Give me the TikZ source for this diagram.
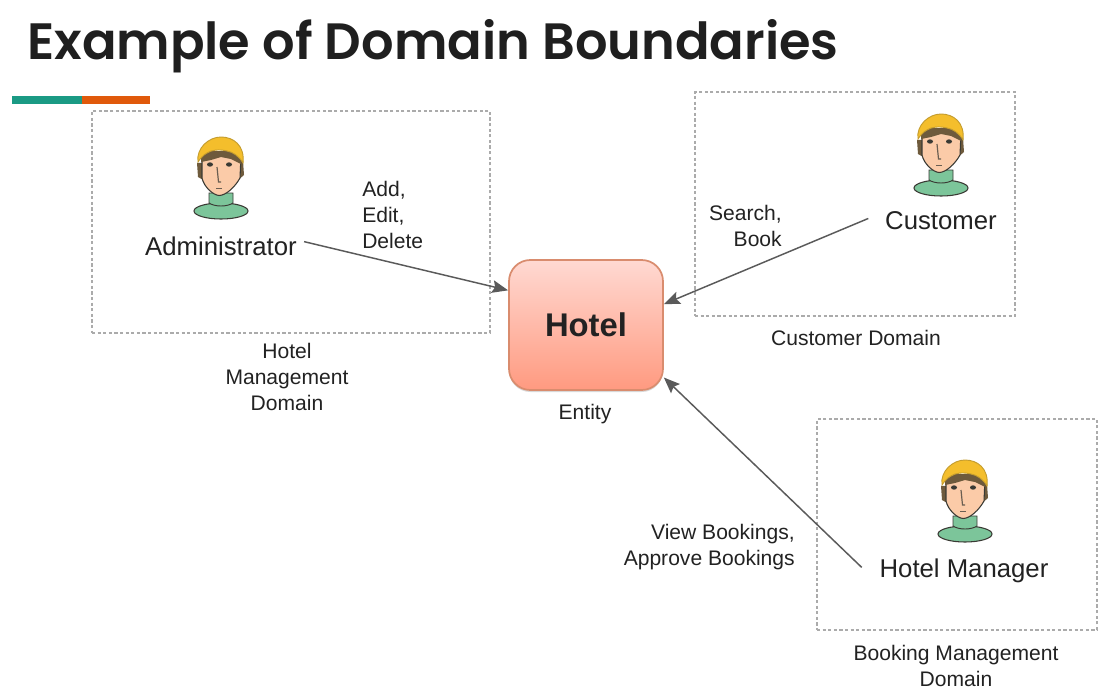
\documentclass[tikz,border=0pt]{standalone}
\usepackage{fontspec}
\setmainfont{Liberation Sans}
\newfontfamily\titlefont{Poppins}[BoldFont={Poppins SemiBold}]
\usetikzlibrary{arrows.meta,shadows}
\definecolor{inkc}{HTML}{222222}
\definecolor{teal1}{HTML}{1A9A84}
\definecolor{orng}{HTML}{E0590B}
\definecolor{dashc}{HTML}{ABABAB}
\definecolor{arrowc}{HTML}{5A5A5A}
\definecolor{hairc}{HTML}{F4BE2C}
\definecolor{hairdk}{HTML}{6E5A3C}
\definecolor{skinc}{HTML}{FBCBA8}
\definecolor{shirtc}{HTML}{7CC59A}
\definecolor{personl}{HTML}{3A3A34}
\definecolor{hotelline}{HTML}{D98C6E}
\definecolor{hoteltop}{HTML}{FFD9D2}
\definecolor{hotelbot}{HTML}{FF9A80}
\tikzset{
  domainbox/.style={draw=dashc,dash pattern=on 2.4pt off 1.8pt,line width=0.8pt,inner sep=0pt,fill=none},
  bigname/.style={font=\fontsize{19.3}{22}\selectfont,text=inkc,inner sep=0pt},
  smalltxt/.style={font=\fontsize{15.8}{19.5}\selectfont,text=inkc,inner sep=0pt},
  linkarrow/.style={draw=arrowc,line width=1.1pt,-{Stealth[length=12pt,width=9.5pt,inset=2pt]}},
  pics/person/.style={code={
    % shoulders and neck
    \fill[shirtc,draw=personl,line width=0.8pt] (0,36) ellipse [x radius=27,y radius=8];
    \fill[shirtc,draw=personl,line width=0.7pt] (-12,18) -- (-12,28) .. controls (-6,32) and (6,32) .. (12,28) -- (12,18) -- cycle;
    % back hair
    \fill[hairdk] (-24,-12) -- (-23,2) -- (-16,6) -- (16,6) -- (23,0) -- (22,-14) -- cycle;
    % face
    \fill[skinc,draw=personl,line width=0.8pt] (-19,-20) -- (-19,3) .. controls (-17,12) and (-8,20) .. (-2,20.5)
      .. controls (5,20.5) and (14,12) .. (19,3) -- (20,-20) -- cycle;
    % fringe shade
    \fill[hairdk] (-20,-13) -- (-10,-15) -- (0,-18) -- (10,-16) -- (20,-11) -- (20,-24) -- (-20,-24) -- cycle;
    % hair
    \fill[hairc,draw=hairc!75!personl,line width=0.7pt] (-23,-13) .. controls (-25,-27) and (-12,-38) .. (0,-38)
      .. controls (12,-38) and (24,-30) .. (22,-12)
      .. controls (18,-19) and (12,-23) .. (6,-24)
      .. controls (-2,-26) and (-10,-25) .. (-14,-22)
      .. controls (-18,-20) and (-21,-16) .. (-23,-13) -- cycle;
    % eyes
    \fill[personl] (-11,-10.5) ellipse [x radius=3,y radius=2.2];
    \fill[personl] (8,-10.5) ellipse [x radius=3,y radius=2.2];
    % nose and mouth
    \draw[personl!75!skinc,line width=0.9pt] (-4,-8) -- (-2.5,7) -- (0,7);
    \draw[personl!75!skinc,line width=0.9pt] (-5,13.5) -- (1,13.5);
  }}
}
\begin{document}
\begin{tikzpicture}[x=0.75pt,y=-0.75pt]
\useasboundingbox (0,0) rectangle (1112,696);
\fill[white] (0,0) rectangle (1112,696);
% title and rule
\node[anchor=base west,inner sep=0pt,text=black!88] (title) at (27,59) {\titlefont\bfseries\fontsize{38.3}{44}\selectfont Example of Domain Boundaries};
\fill[teal1] (12,96) rectangle (82,104);
\fill[orng] (82,96) rectangle (150,104);
% domain boxes
\node[domainbox,minimum width=298.5pt,minimum height=166.5pt] (boxA) at (291,222) {};
\node[domainbox,minimum width=240pt,minimum height=168pt] (boxB) at (855,204) {};
\node[domainbox,minimum width=210pt,minimum height=158.25pt] (boxC) at (957,524.5) {};
% entity
\node[draw=hotelline,line width=1.3pt,rounded corners=16pt,minimum width=115.5pt,minimum height=97.5pt,
  top color=hoteltop,bottom color=hotelbot,
  drop shadow={shadow xshift=0pt,shadow yshift=-1.5pt,opacity=0.3,fill=black!50},
  font=\bfseries\fontsize{24.6}{28}\selectfont,text=inkc] (hotel) at (586,325) {Hotel};
% people
\pic at (221,175) {person};
\pic at (941,152) {person};
\pic at (965,498) {person};
\node[bigname,inner xsep=5.3pt,inner ysep=4pt] (admin) at (221,246) {Administrator};
\node[bigname,inner xsep=12.5pt,inner ysep=4pt] (customer) at (941,221) {Customer};
\node[bigname,inner xsep=13.2pt,inner ysep=4pt] (manager) at (964,571) {Hotel Manager};
% connectors
\draw[linkarrow] (admin.3.6) -- (hotel.156);
\draw[linkarrow] (customer.178) -- (hotel.15.8);
\draw[linkarrow] (manager.178) -- (hotel.-34.2);
% labels
\node[smalltxt,align=left,anchor=west] (lblA) at (362,215) {Add,\\Edit,\\Delete};
\node[smalltxt,align=right,anchor=east] (lblB) at (782,226) {Search,\\Book};
\node[smalltxt,align=right,anchor=east] (lblC) at (795,547) {View Bookings,\\Approve Bookings};
\node[smalltxt,align=center] (capA) at (287,377) {Hotel\\Management\\Domain};
\node[smalltxt,align=center] (capB) at (856,338) {Customer Domain};
\node[smalltxt,align=center] (capC) at (956,666) {Booking Management\\Domain};
\node[smalltxt,align=center] (capE) at (585,414) {Entity};
\end{tikzpicture}
\end{document}
